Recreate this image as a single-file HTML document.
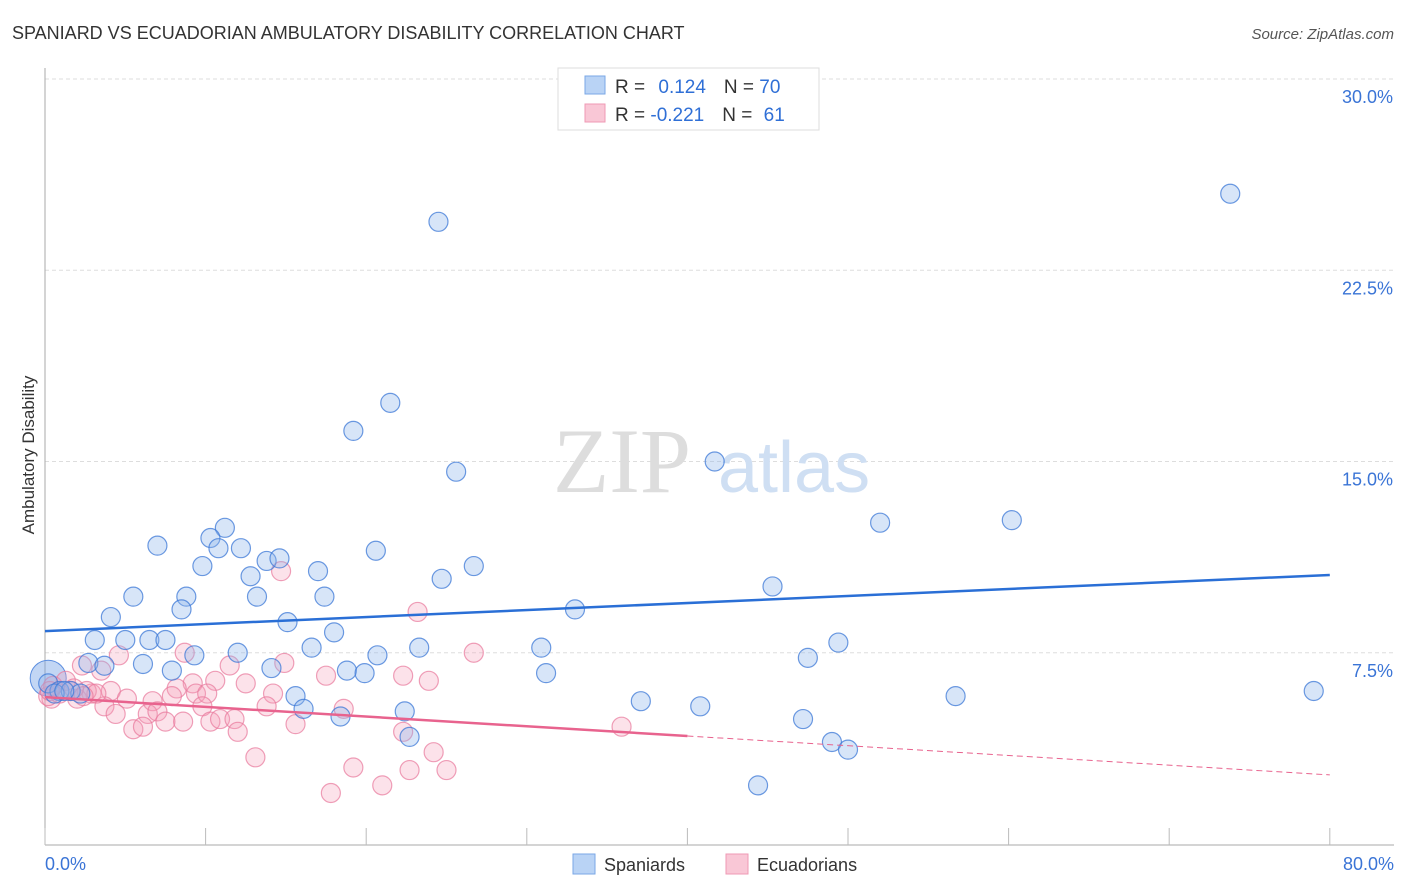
<!DOCTYPE html>
<html><head><meta charset="utf-8"><style>
body{margin:0;background:#fff;font-family:"Liberation Sans",sans-serif}
svg{display:block}
</style></head><body>
<svg id="c" width="1406" height="892" xmlns="http://www.w3.org/2000/svg">
<text x="12" y="39" font-size="18" fill="#333">SPANIARD VS ECUADORIAN AMBULATORY DISABILITY CORRELATION CHART</text>
<text x="1394" y="39" font-size="15" fill="#555" font-style="italic" text-anchor="end">Source: ZipAtlas.com</text>
<text x="34" y="455" font-size="17" fill="#333" text-anchor="middle" transform="rotate(-90 34 455)">Ambulatory Disability</text>
<g id="grid"></g>
<g><text x="553" y="492" font-size="92" fill="#ddd" font-family="Liberation Serif,serif">ZIP</text><text x="718" y="492" font-size="72" fill="#cfdff3">atlas</text></g>
<g id="axes"></g>
<g id="pts"></g>
<g id="lines"></g>
<g>
<rect x="558" y="68" width="261" height="62" fill="#fff" stroke="#ddd"/>
<rect x="585" y="76" width="20" height="18" fill="#b9d3f5" stroke="#7aa7e6"/>
<rect x="585" y="104" width="20" height="18" fill="#f9c7d6" stroke="#ef9ab4"/>
<text x="615" y="93" font-size="19" fill="#333">R = <tspan fill="#2f6fd6" dx="8">0.124</tspan><tspan dx="18" fill="#333">N = </tspan><tspan fill="#2f6fd6">70</tspan></text>
<text x="615" y="121" font-size="19" fill="#333">R = <tspan fill="#2f6fd6">-0.221</tspan><tspan dx="18" fill="#333">N = </tspan><tspan fill="#2f6fd6" dx="6">61</tspan></text>
</g>
<g>
<rect x="573" y="854" width="22" height="20" fill="#b9d3f5" stroke="#7aa7e6"/>
<text x="604" y="871" font-size="18" fill="#333">Spaniards</text>
<rect x="726" y="854" width="22" height="20" fill="#f9c7d6" stroke="#ef9ab4"/>
<text x="757" y="871" font-size="18" fill="#333">Ecuadorians</text>
</g>
</svg>
<script>
const yTicks=[7.5,15,22.5,30];
const yTickLabels=["7.5%","15.0%","22.5%","30.0%"];
const xTicks=[0,10,20,30,40,50,60,70,80];
const blueX=[24.5,73.8,21.5,19.2,25.6,41.7,52,60.2,11.2,10.3,7,12.2,10.8,20.6,13.8,14.6,9.8,26.7,17,12.8,24.7,45.3,5.5,8.8,17.4,13.2,8.5,33,4.1,15.1,18,3.1,5,6.5,7.5,49.4,30.9,23.3,9.3,12,16.6,20.7,47.5,2.7,3.7,6.1,7.9,14.1,18.8,19.9,31.2,79,56.7,37.1,15.6,40.8,16.1,22.4,47.2,18.4,22.7,49,50,44.4,0.2,0.9,1.6,2.2,0.6,1.2];
const blueY=[24.4,25.5,17.3,16.2,14.6,15,12.6,12.7,12.4,12.0,11.7,11.6,11.6,11.5,11.1,11.2,10.9,10.9,10.7,10.5,10.4,10.1,9.7,9.7,9.7,9.7,9.2,9.2,8.9,8.7,8.3,8.0,8.0,8.0,8.0,7.9,7.7,7.7,7.4,7.5,7.7,7.4,7.3,7.1,6.99,7.06,6.8,6.9,6.8,6.7,6.7,6.0,5.8,5.6,5.8,5.4,5.3,5.2,4.9,5.0,4.2,4.0,3.7,2.3,6.3,6.0,6.0,5.9,5.9,6.0];
const pinkX=[14.7,23.2,8.7,26.7,11.5,14.9,2.3,3.5,4.6,17.5,22.3,23.9,10.6,12.5,9.2,8.2,14.2,4.1,2.9,2,0.4,5.1,6.7,7.9,9.4,10.1,3.7,9.8,13.8,18.6,4.4,6.4,7,7.5,8.6,10.3,10.9,11.8,12,15.6,5.5,6.1,22.3,24.2,13.1,19.2,22.7,25,21,17.8,35.9,0.2,0.9,1.6,0.5,1.3,2.6,3.2,1.8,2.4,0.3];
const pinkY=[10.7,9.1,7.5,7.5,7.0,7.1,7.0,6.8,7.4,6.6,6.6,6.4,6.4,6.3,6.3,6.1,5.9,6.0,5.9,5.7,5.7,5.7,5.6,5.8,5.9,5.9,5.4,5.4,5.4,5.3,5.1,5.1,5.2,4.8,4.8,4.8,4.9,4.9,4.4,4.7,4.5,4.6,4.4,3.6,3.4,3.0,2.9,2.9,2.3,2.0,4.6,5.8,5.9,6.0,6.2,6.4,6.0,5.9,6.1,5.8,6.0];
const blueLine=[8.35,10.55];
const pinkLine=[5.76,2.71];
const pinkSolidEnd=40;
const X=v=>45+v*16.06, Y=v=>844-v*25.5;
const ns="http://www.w3.org/2000/svg";
function mk(t,a,p){const e=document.createElementNS(ns,t);for(const k in a)e.setAttribute(k,a[k]);p.appendChild(e);return e;}
const grid=document.getElementById('grid'),axes=document.getElementById('axes'),pts=document.getElementById('pts'),lines=document.getElementById('lines');
yTicks.forEach((t,i)=>{
 const l=mk('line',{x1:45,x2:1394,y1:Y(t),y2:Y(t),stroke:'#ddd','stroke-dasharray':'4,3'},grid);
 
 
 const tx=mk('text',{x:1393,y:Y(t)+24,'font-size':18,fill:'#3a74d6','text-anchor':'end'},axes);
 tx.textContent=yTickLabels[i];
 
 
});
mk('line',{x1:45,x2:45,y1:68,y2:845,stroke:'#aaa'},axes);
mk('line',{x1:45,x2:1394,y1:845,y2:845,stroke:'#aaa'},axes);
xTicks.forEach(t=>{const l=mk('line',{x1:X(t),x2:X(t),y1:828,y2:845,stroke:'#bbb'},axes);
 
 });
const a=mk('text',{x:45,y:870,'font-size':18,fill:'#3a74d6'},axes);a.textContent='0.0%';


const b=mk('text',{x:1394,y:870,'font-size':18,fill:'#3a74d6','text-anchor':'end'},axes);b.textContent='80.0%';


mk('circle',{cx:X(0.2),cy:Y(6.5),r:18,fill:'rgba(120,165,230,0.45)',stroke:'#5d8fe0'},pts);
pinkX.forEach((x,i)=>{const c=mk('circle',{cx:X(x),cy:Y(pinkY[i]),r:9.5,fill:'rgba(245,160,185,0.3)',stroke:'rgba(232,120,155,0.7)','stroke-width':1.2},pts);
 
 });
blueX.forEach((x,i)=>{const c=mk('circle',{cx:X(x),cy:Y(blueY[i]),r:9.5,fill:'rgba(140,180,235,0.35)',stroke:'rgba(60,120,215,0.75)','stroke-width':1.2},pts);
 
 });
const bl=mk('line',{x1:X(0),y1:Y(blueLine[0]),x2:X(80),y2:Y(blueLine[1]),stroke:'#2a6fd6','stroke-width':2.5},lines);


const pm=pinkLine[0]+(pinkLine[1]-pinkLine[0])*pinkSolidEnd/80;
const pl=mk('line',{x1:X(0),y1:Y(pinkLine[0]),x2:X(pinkSolidEnd),y2:Y(pm),stroke:'#e8638e','stroke-width':2.5},lines);


const pd=mk('line',{x1:X(pinkSolidEnd),y1:Y(pm),x2:X(80),y2:Y(pinkLine[1]),stroke:'#e8638e','stroke-width':1,'stroke-dasharray':'6,4'},lines);


</script>
</body></html>
